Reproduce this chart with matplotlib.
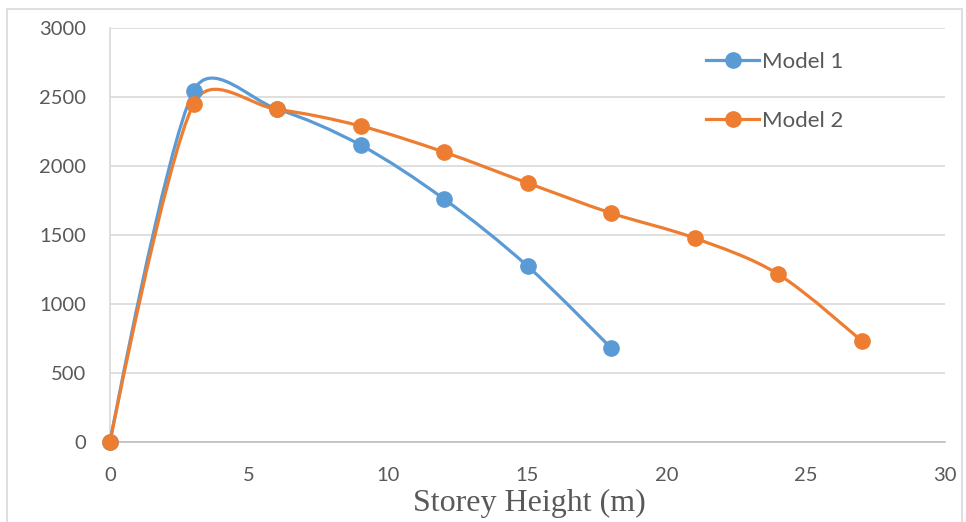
import matplotlib
matplotlib.use("Agg")
import matplotlib.pyplot as plt
import numpy as np
from matplotlib.path import Path
from matplotlib.patches import PathPatch, Rectangle
from matplotlib.lines import Line2D

# data
storey_m1 = [0, 3, 6, 9, 12, 15, 18]
values_m1 = [0, 2543, 2413, 2152, 1761, 1275, 681]
storey_m2 = [0, 3, 6, 9, 12, 15, 18, 21, 24, 27]
values_m2 = [0, 2449, 2410, 2290, 2101, 1877, 1659, 1478, 1217, 732]
series_names = ["Model 1", "Model 2"]
x_ticks = [0, 5, 10, 15, 20, 25, 30]
y_ticks = [0, 500, 1000, 1500, 2000, 2500, 3000]

BLUE = "#5B9BD5"
ORANGE = "#ED7D31"
TXT = "#595959"
TICK_FONT = "Lato"

W, H = 966, 522
PX_X = 835 / 30.0     # pixels per x unit
PX_Y = 414 / 3000.0   # pixels per y unit


def smooth_path(xs, ys):
    # Excel-style smoothed line: cubic bezier through each point,
    # tangents shortened next to much longer segments
    pts = np.column_stack([xs, ys]).astype(float)
    scr = pts * [PX_X, PX_Y]
    n = len(pts)

    def seg(a, b):
        return np.hypot(*(scr[b] - scr[a]))

    verts = [pts[0]]
    codes = [Path.MOVETO]
    for i in range(n - 1):
        j = i + 1
        # outgoing tangent at point i
        if i > 0:
            d_in, d_out = seg(i - 1, i), seg(i, j)
            s = np.sqrt(min(1.0, 2 * d_out / (d_in + d_out)))
            c1 = pts[i] + (pts[j] - pts[i - 1]) / 6.0 * s
        else:
            c1 = pts[i]
        # incoming tangent at point j
        if j < n - 1:
            d_in, d_out = seg(i, j), seg(j, j + 1)
            s = np.sqrt(min(1.0, 2 * d_in / (d_in + d_out)))
            c2 = pts[j] - (pts[j + 1] - pts[i]) / 6.0 * s
        else:
            c2 = pts[j]
        verts += [c1, c2, pts[j]]
        codes += [Path.CURVE4] * 3
    return Path(verts, codes)


fig = plt.figure(figsize=(9.66, 5.22), dpi=100)
ax = fig.add_axes([110 / W, 1 - 442 / H, 835 / W, 414 / H])

for xs, ys, c in [(storey_m1, values_m1, BLUE), (storey_m2, values_m2, ORANGE)]:
    ax.add_patch(PathPatch(smooth_path(xs, ys), facecolor="none",
                           edgecolor=c, lw=2.3, capstyle="round", zorder=3))
    ax.plot(xs, ys, ls="none", marker="o", ms=11, color=c, zorder=4, clip_on=False)

ax.set_xlim(0, 30)
ax.set_ylim(0, 3000)
ax.set_xticks(x_ticks)
ax.set_yticks(y_ticks)
ax.grid(axis="y", color="#D9D9D9", lw=1.2)
ax.set_axisbelow(True)
for s in ["top", "right"]:
    ax.spines[s].set_visible(False)
ax.spines["left"].set_color("#D9D9D9")
ax.spines["bottom"].set_color("#BFBFBF")
ax.spines["left"].set_linewidth(1.2)
ax.spines["bottom"].set_linewidth(1.2)
ax.tick_params(length=0, labelcolor=TXT, labelsize=14.5)
ax.tick_params(axis="y", pad=17)
ax.tick_params(axis="x", pad=18)
for lab in ax.get_xticklabels() + ax.get_yticklabels():
    lab.set_fontfamily(TICK_FONT)

ax.set_xlabel("Storey Height (m)", family="Liberation Serif", fontsize=23,
              color=TXT, va="center")
ax.xaxis.set_label_coords((529 - 110) / 835, (442 - 503) / 414)

handles = [Line2D([], [], color=c, lw=2.3, marker="o", ms=11) for c in (BLUE, ORANGE)]
leg = ax.legend(handles, series_names, loc="upper left",
                bbox_to_anchor=(0.690, 0.99), frameon=False,
                prop={"family": TICK_FONT, "size": 16}, labelcolor=TXT,
                handlelength=2.4, handletextpad=0.12, labelspacing=1.75)

fig.patches.append(Rectangle((7 / W, -0.1), 955 / W, 1 - 9 / H + 0.1,
                             transform=fig.transFigure, fill=False,
                             edgecolor="#D9D9D9", lw=1.2))

fig.savefig("out.png", dpi=100)
